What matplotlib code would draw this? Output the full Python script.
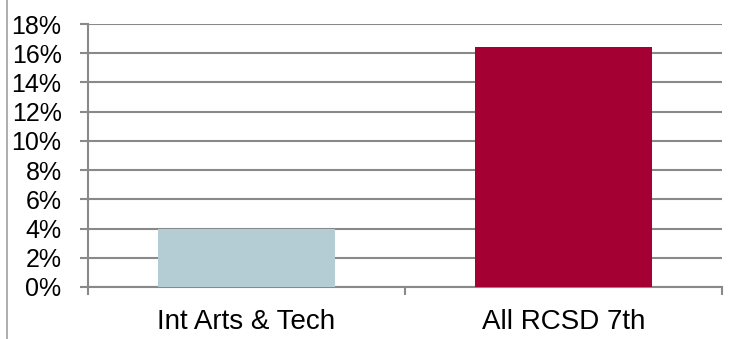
import matplotlib
matplotlib.use("Agg")
import matplotlib.pyplot as plt
from matplotlib.lines import Line2D
from matplotlib.ticker import FuncFormatter

categories = ["Int Arts & Tech", "All RCSD 7th"]
values = [4.0, 16.4]
bar_colors = ["#B4CDD4", "#A50034"]
y_ticks = [0, 2, 4, 6, 8, 10, 12, 14, 16, 18]

plt.rcParams["font.family"] = ["Liberation Sans", "DejaVu Sans"]

W, H = 730, 339
fig = plt.figure(figsize=(W / 100, H / 100), dpi=100)
ax = fig.add_axes([88 / W, (H - 287) / H, (722 - 88) / W, (287 - 24) / H])

grid_c = "#898989"
x = list(range(len(categories)))
ax.bar(x, values, width=0.56, color=bar_colors, zorder=3)

ax.set_xlim(-0.5, len(categories) - 0.5)
ax.set_ylim(0, 18)
ax.set_yticks(y_ticks)
ax.yaxis.set_major_formatter(FuncFormatter(lambda v, _: f"{v:.0f}%"))
ax.yaxis.grid(True, color=grid_c, linewidth=1.5, zorder=0)

ax.set_xticks(x)
ax.set_xticklabels(categories)
ax.set_xticks([-0.5, 0.5, 1.5], minor=True)
ax.tick_params(axis="x", which="major", length=0, pad=16, labelsize=20)
ax.tick_params(axis="x", which="minor", length=6, width=1.5, color=grid_c, direction="out")
ax.tick_params(axis="y", length=6, width=1.5, color=grid_c, pad=13, labelsize=18)

for s in ["top", "right"]:
    ax.spines[s].set_visible(False)
for s in ["left", "bottom"]:
    ax.spines[s].set_color(grid_c)
    ax.spines[s].set_linewidth(1.5)

# thin frame edge at the left of the figure
fig.add_artist(Line2D([7 / W, 7 / W], [0, 1], transform=fig.transFigure,
                      color="#A0A0A0", linewidth=1.2))

fig.savefig("out.png", dpi=100)
